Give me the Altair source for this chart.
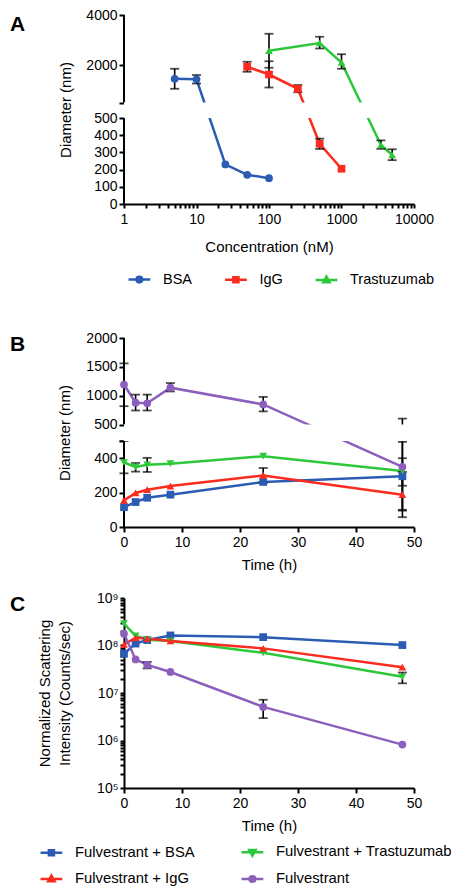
import altair as alt
import pandas as pd

FONT = "Liberation Sans"

# ---------------- Panel A : diameter vs concentration ----------------
A_SERIES = ["BSA", "IgG", "Trastuzumab"]
A_COLORS = ["#2b5cb3", "#fb2b1f", "#2cc83a"]
A_SHAPES = ["circle", "square", "triangle-up"]

A_BSA_CONC = [5, 10, 25, 50, 100]
A_BSA_DIAM = [1450, 1430, 230, 170, 150]
A_BSA_LO = [1050, 1260, None, None, None]
A_BSA_HI = [1850, 1600, None, None, None]

A_IGG_CONC = [50, 100, 250, 500, 1000]
A_IGG_DIAM = [1930, 1620, 1050, 350, 205]
A_IGG_LO = [1730, 1100, 910, 320, None]
A_IGG_HI = [2130, 2150, 1200, 380, None]

A_TRA_CONC = [100, 500, 1000, 3500, 5000]
A_TRA_DIAM = [2570, 2880, 2100, 343, 285]
A_TRA_LO = [1890, 2660, 1850, 320, 255]
A_TRA_HI = [3250, 3130, 2430, 370, 318]

A_X_TICKS = [m * 10 ** k for k in range(4) for m in range(1, 10)] + [10000]
A_Y_TICKS = [0, 100, 200, 300, 400, 500, 501, 2000, 4000]

# ---------------- Panel B : diameter vs time ----------------
BC_SERIES = ["Fulvestrant + BSA", "Fulvestrant + Trastuzumab", "Fulvestrant + IgG", "Fulvestrant"]
BC_COLORS = ["#2b5cb3", "#2cc83a", "#fb2b1f", "#8c5fbd"]
BC_SHAPES = ["square", "triangle-down", "triangle-up", "circle"]

TIME = [0, 2, 4, 8, 24, 48]

B_BSA = [115, 145, 170, 188, 262, 295]
B_BSA_LO = [None, None, None, None, None, 95]
B_BSA_HI = [None, None, None, None, None, 495]

B_TRA = [375, 349, 362, 368, 412, 325]
B_TRA_LO = [312, 322, 320, None, None, 240]
B_TRA_HI = [500, 372, 402, None, None, 400]

B_IGG = [155, 198, 217, 238, 300, 188]
B_IGG_LO = [None, None, None, None, 257, 57]
B_IGG_HI = [None, None, None, None, 343, 320]

B_FUL = [1195, 880, 870, 1140, 850, 350]
B_FUL_LO = [820, 745, 745, 1075, 730, 100]
B_FUL_HI = [1560, 1020, 1020, 1220, 980, 605]

B_Y_TICKS = [0, 200, 400, 500, 501, 1000, 1500, 2000]
TIME_TICKS = [0, 10, 20, 30, 40, 50]

# ---------------- Panel C : scattering intensity vs time ----------------
C_BSA = [6.7e7, 1.1e8, 1.3e8, 1.63e8, 1.5e8, 1.02e8]
C_BSA_LO = [None] * 6
C_BSA_HI = [None] * 6

C_TRA = [2.9e8, 1.6e8, 1.32e8, 1.24e8, 7.0e7, 2.2e7]
C_TRA_LO = [None, None, None, None, None, 1.6e7]
C_TRA_HI = [None, None, None, None, None, 2.7e7]

C_IGG = [1.05e8, 1.45e8, 1.4e8, 1.25e8, 8.7e7, 3.5e7]
C_IGG_LO = [None] * 6
C_IGG_HI = [None] * 6

C_FUL = [1.77e8, 5.1e7, 3.9e7, 2.77e7, 5.1e6, 8.2e5]
C_FUL_LO = [None, None, 3.3e7, None, 2.96e6, None]
C_FUL_HI = [None, None, 4.5e7, None, 7.2e6, None]

C_Y_TICKS = [m * 10 ** k for k in range(5, 9) for m in range(1, 10)] + [10 ** 9]


def long_df(names, xs, ys, los, his):
    rows = []
    for s, xx, yy, ll, hh in zip(names, xs, ys, los, his):
        for a, b, c, d in zip(xx, yy, ll, hh):
            rows.append({"series": s, "x": a, "y": b, "lo": c, "hi": d})
    return pd.DataFrame(rows)


dfA = long_df(A_SERIES,
              [A_BSA_CONC, A_IGG_CONC, A_TRA_CONC],
              [A_BSA_DIAM, A_IGG_DIAM, A_TRA_DIAM],
              [A_BSA_LO, A_IGG_LO, A_TRA_LO],
              [A_BSA_HI, A_IGG_HI, A_TRA_HI])
dfB = long_df(BC_SERIES, [TIME] * 4,
              [B_BSA, B_TRA, B_IGG, B_FUL],
              [B_BSA_LO, B_TRA_LO, B_IGG_LO, B_FUL_LO],
              [B_BSA_HI, B_TRA_HI, B_IGG_HI, B_FUL_HI])
dfC = long_df(BC_SERIES, [TIME] * 4,
              [C_BSA, C_TRA, C_IGG, C_FUL],
              [C_BSA_LO, C_TRA_LO, C_IGG_LO, C_FUL_LO],
              [C_BSA_HI, C_TRA_HI, C_IGG_HI, C_FUL_HI])

# legend symbols: marker + connecting line (unit box, line reaches a bit beyond it)
MARKER_PATH = {
    "circle": "M-0.38,0A0.38,0.38,0,1,1,0.38,0A0.38,0.38,0,1,1,-0.38,0Z",
    "square": "M-0.34,-0.34H0.34V0.34H-0.34Z",
    "triangle-up": "M0,-0.45L0.42,0.3H-0.42Z",
    "triangle-down": "M0,0.45L0.42,-0.3H-0.42Z",
}
LEGEND_LINE = "M-1.45,0H1.45"

ONE = pd.DataFrame({"k": [0]})


def panel(df, names, colors, shapes, xscale, xaxis, yscale, yaxis,
          letter, letter_y, xr, brk=None, legend=None, hide_y=None):
    X = lambda f: alt.X(f, scale=xscale, axis=xaxis)
    Y = lambda f: alt.Y(f, scale=yscale, axis=yaxis)
    XD = lambda v: alt.XDatum(v, scale=xscale, axis=xaxis)
    YD = lambda v: alt.YDatum(v, scale=yscale, axis=yaxis)
    layers = []
    if brk is not None:
        for a, b in brk["segments"]:
            layers.append(alt.Chart(ONE).mark_rule(color="black", strokeWidth=2).encode(
                x=XD(xr[0]), y=YD(a), y2=alt.Y2Datum(b)))
    for n, c in zip(names, colors):
        layers.append(alt.Chart(df).transform_filter(alt.datum.series == n).mark_line(
            strokeWidth=2.5, color=c).encode(x=X("x:Q"), y=Y("y:Q")))
    err = alt.Chart(df).transform_filter("isValid(datum.lo)")
    layers.append(err.mark_rule(color="black", strokeWidth=1.6).encode(
        x=X("x:Q"), y=Y("lo:Q"), y2="hi:Q"))
    layers.append(err.mark_tick(orient="horizontal", size=9, thickness=1.8, color="black").encode(
        x=X("x:Q"), y=Y("lo:Q")))
    layers.append(err.mark_tick(orient="horizontal", size=9, thickness=1.8, color="black").encode(
        x=X("x:Q"), y=Y("hi:Q")))
    for n, c, s in zip(names, colors, shapes):
        layers.append(alt.Chart(df).transform_filter(alt.datum.series == n).mark_point(
            filled=True, size=60, opacity=1, shape=s, color=c).encode(
            x=X("x:Q"), y=Y("y:Q")))
    if brk is not None:
        layers.append(alt.Chart(ONE).mark_rect(color="white").encode(
            x=XD(xr[0]), x2=alt.X2Datum(xr[1]),
            y=YD(brk["gap"][0]), y2=alt.Y2Datum(brk["gap"][1])))
    if legend is not None:
        rng = [MARKER_PATH[s] + LEGEND_LINE for s in shapes]
        if legend.get("tail"):
            extra = dict(title=" ", titleOrient="bottom", titleFontSize=14,
                         titlePadding=legend["tail"])
        else:
            extra = dict(title=None)
        leg = alt.Legend(orient="none", legendX=legend["x"], legendY=legend["y"],
                         direction="horizontal", columns=legend["cols"],
                         labelFont=FONT, labelFontSize=legend["fs"], labelColor="black",
                         labelLimit=400, symbolSize=225, symbolStrokeWidth=2.5, labelOffset=14.6,
                         gridAlign="each", columnPadding=legend["colpad"], rowPadding=9,
                         padding=0, **extra)
        # legend-only layer: its marks sit outside the plot and are clipped away
        layers.append(alt.Chart(df).mark_point(filled=True, clip=True, opacity=1).encode(
            x=XD(xr[0]), y=YD(hide_y),
            fill=alt.Fill("series:N", scale=alt.Scale(domain=names, range=colors), legend=leg),
            stroke=alt.Stroke("series:N", scale=alt.Scale(domain=names, range=colors), legend=leg),
            shape=alt.Shape("series:N", scale=alt.Scale(domain=names, range=rng), legend=leg)))
    layers.append(alt.Chart(pd.DataFrame({"t": [letter]})).mark_text(
        align="left", baseline="middle", fontSize=21, fontWeight="bold", font=FONT, color="black").encode(
        text="t:N", x=alt.value(-114), y=alt.value(letter_y)))
    return alt.layer(*layers)


# ---- Panel A
axA_x = alt.Axis(values=A_X_TICKS, format="d",
                 labelExpr="indexof(['1','10','100','1000','10000'], datum.label) >= 0 ? datum.label : ''",
                 title="Concentration (nM)", tickSize=4, labelPadding=4, titlePadding=13,
                 labelOverlap=False, labelFlush=False)
axA_y = alt.Axis(values=A_Y_TICKS, format="d", labelExpr="datum.value == 501 ? '' : datum.label",
                 domain=False, title="Diameter (nm)", labelOverlap=False, labelPadding=2,
                 titlePadding=12, labelFlush=False)
chartA = panel(
    dfA, A_SERIES, A_COLORS, A_SHAPES,
    alt.Scale(type="log", domain=[1, 10000], nice=False), axA_x,
    alt.Scale(domain=[0, 500, 501, 4000], range=[189, 103, 87.5, 0], zero=False, nice=False), axA_y,
    "A", 10, xr=(1, 10000),
    brk={"segments": [(0, 500), (501, 4000)], "gap": (500, 501)},
    legend={"x": 6.4, "y": 255.5, "cols": 3, "colpad": 27.5, "fs": 14.5, "tail": 11},
    hide_y=-3000,
).properties(width=290, height=189)

# ---- Panel B
axB_x = alt.Axis(values=TIME_TICKS, title="Time (h)", labelPadding=3, titlePadding=8.5,
                 labelFlush=False, labelOverlap=False)
axB_y = alt.Axis(values=B_Y_TICKS, format="d",
                 labelExpr="datum.value == 500 ? '' : (datum.value == 501 ? '500' : datum.label)",
                 domain=False, title="Diameter (nm)", labelOverlap=False, labelPadding=2,
                 titlePadding=13, labelFlush=False)
chartB = panel(
    dfB, BC_SERIES, BC_COLORS, BC_SHAPES,
    alt.Scale(domain=[0, 50], nice=False, zero=False), axB_x,
    alt.Scale(domain=[0, 500, 501, 2000], range=[189, 103, 86.6, 0], zero=False, nice=False), axB_y,
    "B", 7, xr=(0, 50),
    brk={"segments": [(0, 500), (501, 2000)], "gap": (500, 501)},
).properties(width=290, height=189)

# ---- Panel C
SUP = "['⁰','¹','²','³','⁴','⁵','⁶','⁷','⁸','⁹']"
axC_x = alt.Axis(values=TIME_TICKS, title="Time (h)", labelPadding=3, titlePadding=8,
                 labelFlush=False, labelOverlap=False)
axC_y = alt.Axis(values=C_Y_TICKS,
                 labelExpr="abs(log(datum.value)/LN10 - round(log(datum.value)/LN10)) < 0.001 ? '10' + "
                           + SUP + "[round(log(datum.value)/LN10)] : ''",
                 title=["Normalized Scattering", "Intensity (Counts/sec)"], titleLineHeight=20,
                 tickSize=4, labelOverlap=False, labelPadding=2, titlePadding=24, labelFlush=False)
chartC = panel(
    dfC, BC_SERIES, BC_COLORS, BC_SHAPES,
    alt.Scale(domain=[0, 50], nice=False, zero=False), axC_x,
    alt.Scale(type="log", domain=[1e5, 1e9], nice=False), axC_y,
    "C", 7, xr=(0, 50),
    legend={"x": -81.6, "y": 245, "cols": 2, "colpad": 41, "fs": 14.8},
    hide_y=1,
).properties(width=290, height=190)

chart = alt.vconcat(chartA, chartB, chartC, spacing=18).resolve_scale(
    fill="independent", stroke="independent", shape="independent"
).resolve_legend(
    fill="independent", stroke="independent", shape="independent"
).properties(
    padding={"left": 2, "top": 0, "right": 0, "bottom": 0}
).configure(font=FONT).configure_view(stroke=None).configure_axis(
    labelFont=FONT, titleFont=FONT, labelFontSize=14, titleFontSize=15, titleFontWeight="normal",
    labelColor="black", titleColor="black", domainColor="black", tickColor="black",
    domainWidth=2, tickWidth=2, tickSize=5, grid=False, labelOverlap=False
)

chart.save("out.html", embed_options={"renderer": "svg", "actions": False})
